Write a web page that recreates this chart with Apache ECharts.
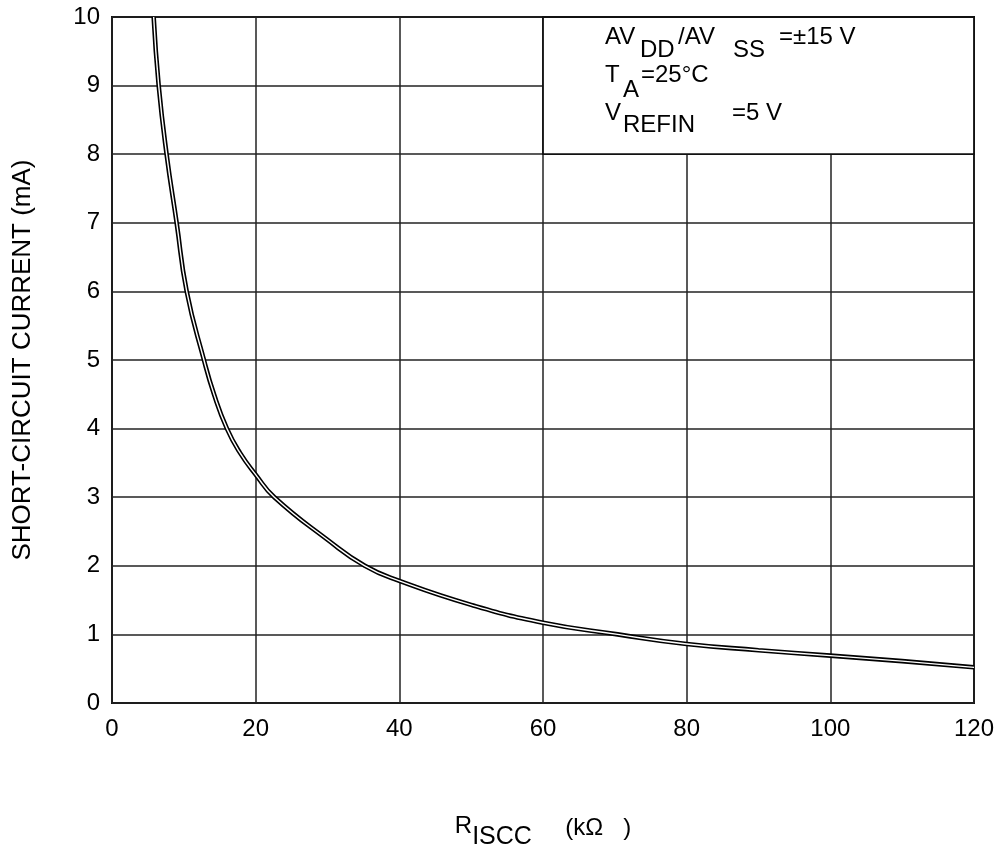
<!DOCTYPE html>
<html>
<head>
<meta charset="utf-8">
<script src="https://cdn.jsdelivr.net/npm/echarts@6/dist/echarts.min.js"></script>
<style>
  html, body { margin: 0; padding: 0; background: #fff; }
  #main { width: 1005px; height: 850px; }
</style>
</head>
<body>
<div id="main"></div>
<script>
// resistance R_ISCC (kOhm) and short-circuit current (mA)
const rIscc = [5.8, 6.5, 7.6, 9.0, 10.4, 12.8, 14.2, 16.0, 17.8, 20, 22.6, 30, 35.2, 40, 50, 60, 70.4, 80, 90, 100, 110, 120];
const current = [10, 9, 8, 7, 6, 5, 4.5, 4, 3.65, 3.33, 3, 2.38, 2, 1.78, 1.43, 1.17, 1.0, 0.86, 0.77, 0.69, 0.61, 0.52];

// condition box in the top right corner (x from..to, y from..to)
const boxX = [60, 120];
const boxY = [8, 10];

const xTicks = [0, 20, 40, 60, 80, 100, 120];
const yTicks = [0, 1, 2, 3, 4, 5, 6, 7, 8, 9, 10];

const FONT = '"Liberation Sans", Arial, Helvetica, sans-serif';

const curve = rIscc.map((r, i) => [r, current[i]]);

let myChart = echarts.init(document.getElementById('main'));

function txt(text, x, y, size) {
  return {
    type: 'text',
    x: x,
    y: y,
    z: 100,
    style: {
      text: text,
      font: (size || 24) + 'px ' + FONT,
      fill: '#000',
      textVerticalAlign: 'middle'
    }
  };
}

myChart.setOption({
  animation: false,
  backgroundColor: '#fff',
  grid: {
    left: 112,
    right: 31,
    top: 17,
    bottom: 147,
    containLabel: false,
    outerBoundsMode: 'none',
    show: true,
    borderColor: '#111',
    borderWidth: 2
  },
  xAxis: {
    type: 'value',
    min: xTicks[0],
    max: xTicks[xTicks.length - 1],
    interval: 20,
    axisLine: { show: false },
    axisTick: { show: false },
    axisLabel: { color: '#000', fontSize: 24, fontFamily: FONT, margin: 14 },
    splitLine: { lineStyle: { color: '#222', width: 1.5 } },
    name: '{r|R}{s|ISCC}{u|     (kΩ   )}',
    nameLocation: 'middle',
    nameGap: 110,
    nameTextStyle: {
      fontFamily: FONT,
      color: '#000',
      rich: {
        r: { fontSize: 24, fontFamily: FONT, color: '#000', padding: [0, 0, 10, 0] },
        s: { fontSize: 25, fontFamily: FONT, color: '#000', padding: [12, 0, 0, 0] },
        u: { fontSize: 24, fontFamily: FONT, color: '#000', padding: [0, 0, 6, 0] }
      }
    }
  },
  yAxis: {
    type: 'value',
    min: yTicks[0],
    max: yTicks[yTicks.length - 1],
    interval: 1,
    axisLine: { show: false },
    axisTick: { show: false },
    axisLabel: { color: '#000', fontSize: 24, fontFamily: FONT, margin: 12 },
    splitLine: { lineStyle: { color: '#222', width: 1.5 } },
    name: 'SHORT-CIRCUIT CURRENT (mA)',
    nameLocation: 'middle',
    nameGap: 76,
    nameTextStyle: { fontSize: 26, fontFamily: FONT, color: '#000' }
  },
  series: [
    {
      type: 'line',
      data: curve,
      smooth: 0.5,
      showSymbol: false,
      clip: true,
      lineStyle: { color: '#000', width: 4.6 },
      z: 3,
      markArea: {
        silent: true,
        itemStyle: { color: '#fff', borderColor: '#111', borderWidth: 1.8 },
        data: [[{ coord: [boxX[0], boxY[0]] }, { coord: [boxX[1], boxY[1]] }]]
      }
    },
    {
      type: 'line',
      data: curve,
      smooth: 0.5,
      showSymbol: false,
      clip: true,
      lineStyle: { color: '#fff', width: 1.4 },
      z: 4
    }
  ],
  graphic: [
    txt('AV', 605, 37),
    txt('DD', 640, 50),
    txt('/AV', 678, 37),
    txt('SS', 733, 50),
    txt('=±15 V', 779, 37),
    txt('T', 605, 75),
    txt('A', 623, 90),
    txt('=25°C', 641, 75),
    txt('V', 605, 113),
    txt('REFIN', 623, 125),
    txt('=5 V', 732, 113)
  ]
});
</script>
</body>
</html>
